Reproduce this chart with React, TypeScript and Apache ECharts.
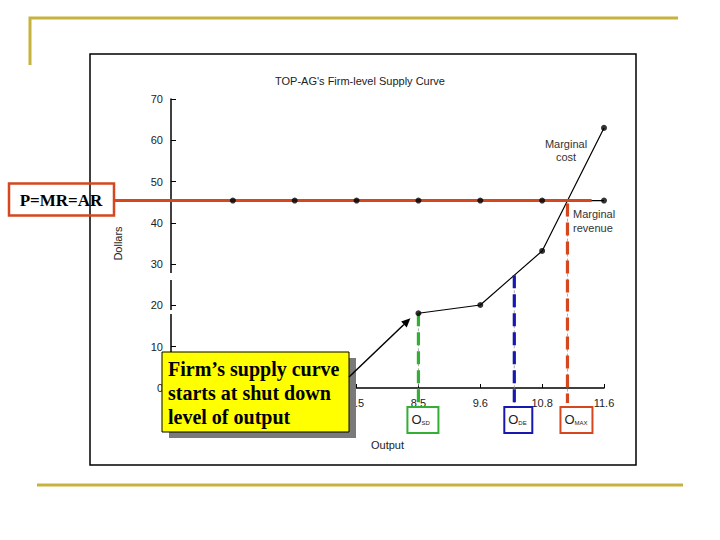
import React, { useEffect, useRef } from "react";
import * as echarts from "echarts";

// ---- data ----
// labels at 1 and 2 are hidden behind the callout in the reference
const outputLabels = ["", "", "", "7.5", "8.5", "9.6", "10.8", "11.6"];
const mrX = [1, 2, 3, 4, 5, 6, 7];
const mrValues = [45.4, 45.4, 45.4, 45.4, 45.4, 45.4, 45.4];
const mcX = [4, 5, 6, 7];
const mcValues = [18.1, 20.1, 33.2, 63.0];
const yMin = 0;
const yMax = 70;
const yStep = 10;
const shutdownX = 4; // O_SD
const breakevenX = 5.55; // O_DE
const mrOverlayEndX = 6.8;
const titleText = "TOP-AG's Firm-level Supply Curve";
const calloutLines = ["Firm\u2019s supply curve", "starts at shut down", "level of output"];

function mcAt(x: number): number {
  for (let i = 0; i < mcX.length - 1; i++) {
    if (x >= mcX[i] && x <= mcX[i + 1]) {
      const t = (x - mcX[i]) / (mcX[i + 1] - mcX[i]);
      return mcValues[i] + t * (mcValues[i + 1] - mcValues[i]);
    }
  }
  return mcValues[mcValues.length - 1];
}

function mcMrIntersection(level: number): number {
  for (let i = 0; i < mcX.length - 1; i++) {
    const a = mcValues[i], b = mcValues[i + 1];
    if ((a - level) * (b - level) <= 0) {
      return mcX[i] + ((level - a) / (b - a)) * (mcX[i + 1] - mcX[i]);
    }
  }
  return mcX[mcX.length - 1];
}

const GOLD = "#c8b23e";
const RED = "#d4471f";
const GREEN = "#33b033";
const BLUE = "#1818b0";
const SANS = "'Liberation Sans', Arial, sans-serif";
const SERIF = "'Liberation Serif', 'Times New Roman', serif";

export default function App() {
  const ref = useRef<HTMLDivElement>(null);

  useEffect(() => {
    document.body.style.margin = "0";
    if (!ref.current) return;
    const chart = echarts.init(ref.current, undefined, { renderer: "svg" });
    chart.setOption({
      animation: false,
      backgroundColor: "#ffffff",
      textStyle: { fontFamily: SANS },
      grid: { left: 171, right: 116, top: 99, bottom: 152, containLabel: false },
      xAxis: {
        type: "value",
        min: 0,
        max: outputLabels.length - 1,
        interval: 1,
        name: "Output",
        nameLocation: "middle",
        nameGap: 51,
        nameTextStyle: { fontSize: 11, color: "#222", fontFamily: SANS },
        splitLine: { show: false },
        axisLine: { lineStyle: { color: "#000", width: 1.5 } },
        axisTick: { inside: true, length: 4, lineStyle: { color: "#000" } },
        axisLabel: {
          margin: 9,
          fontSize: 11,
          color: "#222",
          fontFamily: SANS,
          formatter: (v: number) => outputLabels[Math.round(v)] ?? "",
        },
      },
      yAxis: {
        type: "value",
        min: yMin,
        max: yMax,
        interval: yStep,
        name: "Dollars",
        nameLocation: "middle",
        nameGap: 48,
        nameTextStyle: { fontSize: 11, color: "#222", fontFamily: SANS },
        splitLine: { show: false },
        axisLine: { show: true, lineStyle: { color: "#000", width: 1.5 } },
        axisTick: { show: true, inside: true, length: 5, lineStyle: { color: "#000" } },
        axisLabel: { margin: 8, fontSize: 11, color: "#222", fontFamily: SANS },
      },
      series: [
        {
          type: "line",
          z: 2,
          data: mrX.map((x, i) => [x, mrValues[i]]),
          showSymbol: false,
          clip: false,
          lineStyle: { color: "#000", width: 1.2 },
        },
        {
          type: "line",
          z: 2,
          data: mcX.map((x, i) => [x, mcValues[i]]),
          showSymbol: false,
          clip: false,
          lineStyle: { color: "#000", width: 1.2 },
        },
        {
          type: "scatter",
          z: 5,
          data: mrX.map((x, i) => [x, mrValues[i]]),
          symbol: "circle",
          symbolSize: 6,
          clip: false,
          itemStyle: { color: "#000" },
        },
        {
          type: "scatter",
          z: 5,
          data: mcX.map((x, i) => [x, mcValues[i]]),
          symbol: "circle",
          symbolSize: 6,
          clip: false,
          itemStyle: { color: "#000" },
        },
      ],
    });

    const px = (x: number, y: number) =>
      chart.convertToPixel({ gridIndex: 0 }, [x, y]) as number[];

    const mrLevel = mrValues[0];
    const maxX = mcMrIntersection(mrLevel);
    const [, axisY] = px(0, 0);
    const [, mrY] = px(0, mrLevel);
    const [mrEndPx] = px(mrOverlayEndX, mrLevel);
    const sdTop = px(shutdownX, mcAt(shutdownX));
    const deTop = px(breakevenX, mcAt(breakevenX));
    const maxTop = px(maxX, mrLevel);
    const lineBottom = axisY + 15;

    const els: any[] = [];
    // slide decorations
    els.push({ type: "polyline", z: 1, shape: { points: [[30, 65], [30, 18], [678, 18]] }, style: { stroke: GOLD, lineWidth: 3, fill: "none" } });
    els.push({ type: "line", z: 1, shape: { x1: 37, y1: 485, x2: 683, y2: 485 }, style: { stroke: GOLD, lineWidth: 3 } });
    // chart frame
    els.push({ type: "rect", z: 1, shape: { x: 90, y: 54, width: 546, height: 411 }, style: { stroke: "#000", lineWidth: 1.5, fill: "none" } });
    // title
    els.push({ type: "text", z: 3, x: 360, y: 81, style: { text: titleText, font: `11px ${SANS}`, fill: "#222", align: "center", verticalAlign: "middle" } });
    // curve labels
    els.push({ type: "text", z: 3, x: 566, y: 144, style: { text: "Marginal", font: `11px ${SANS}`, fill: "#333", align: "center", verticalAlign: "middle" } });
    els.push({ type: "text", z: 3, x: 566, y: 157, style: { text: "cost", font: `11px ${SANS}`, fill: "#333", align: "center", verticalAlign: "middle" } });
    els.push({ type: "text", z: 3, x: 573, y: 214, style: { text: "Marginal", font: `11px ${SANS}`, fill: "#333", align: "left", verticalAlign: "middle" } });
    els.push({ type: "text", z: 3, x: 573, y: 228, style: { text: "revenue", font: `11px ${SANS}`, fill: "#333", align: "left", verticalAlign: "middle" } });
    // axis gaps (artifacts)
    els.push({ type: "rect", z: 6, shape: { x: 168, y: 273, width: 8, height: 7 }, style: { fill: "#fff" } });
    els.push({ type: "rect", z: 6, shape: { x: 168, y: 310, width: 8, height: 4 }, style: { fill: "#fff" } });

    // P=MR=AR red line & box
    els.push({ type: "line", z: 3, shape: { x1: 114, y1: mrY, x2: mrEndPx, y2: mrY }, style: { stroke: RED, lineWidth: 3 } });
    els.push({ type: "rect", z: 7, shape: { x: 9, y: mrY - 17, width: 105, height: 32 }, style: { stroke: RED, lineWidth: 2.5, fill: "none" } });
    els.push({ type: "text", z: 7, x: 61, y: mrY, style: { text: "P=MR=AR", font: `bold 17px ${SERIF}`, fill: "#000", align: "center", verticalAlign: "middle" } });

    // vertical dashed lines
    const vline = (x: number, yTop: number, color: string) => {
      els.push({ type: "line", z: 3, shape: { x1: x, y1: yTop, x2: x, y2: lineBottom }, style: { stroke: "#999", lineWidth: 0.8, lineDash: [3, 2] } });
      els.push({ type: "line", z: 4, shape: { x1: x, y1: yTop, x2: x, y2: lineBottom }, style: { stroke: color, lineWidth: 3.2, lineDash: [13, 6] } });
    };
    vline(sdTop[0], sdTop[1], GREEN);
    vline(deTop[0], deTop[1], BLUE);
    vline(maxTop[0], maxTop[1] + 3, RED);

    // label boxes
    const box = (left: number, w: number, color: string, sub: string) => {
      const top = axisY + 19;
      els.push({ type: "rect", z: 6, shape: { x: left, y: top, width: w, height: 26 }, style: { stroke: color, lineWidth: 2, fill: "#fff" } });
      els.push({ type: "text", z: 7, x: left + 4, y: top + 12, style: { text: "O", font: `13px ${SANS}`, fill: "#222", align: "left", verticalAlign: "middle" } });
      els.push({ type: "text", z: 7, x: left + 14, y: top + 16, style: { text: sub, font: `6px ${SANS}`, fill: "#222", align: "left", verticalAlign: "middle" } });
    };
    box(sdTop[0] - 11, 31, GREEN, "SD");
    box(deTop[0] - 10, 28, BLUE, "DE");
    box(maxTop[0] - 7, 32, RED, "MAX");

    // callout with shadow
    els.push({ type: "rect", z: 8, shape: { x: 169, y: 358, width: 187, height: 80 }, style: { fill: "#7a7a7a" } });
    els.push({ type: "rect", z: 9, shape: { x: 162, y: 352, width: 187, height: 80 }, style: { fill: "#ffff00", stroke: "#000", lineWidth: 1 } });
    calloutLines.forEach((t, i) => {
      els.push({ type: "text", z: 10, x: 168, y: 369 + i * 24, style: { text: t, font: `bold 20px ${SERIF}`, fill: "#000", align: "left", verticalAlign: "middle" } });
    });
    // arrow from callout to start of supply curve
    const sx = 349, sy = 377;
    const tx = sdTop[0] - 8, ty = sdTop[1] + 5;
    const ang = Math.atan2(ty - sy, tx - sx);
    const ah = 9, aw = 4;
    const bx = tx - ah * Math.cos(ang), by = ty - ah * Math.sin(ang);
    els.push({ type: "line", z: 10, shape: { x1: sx, y1: sy, x2: bx, y2: by }, style: { stroke: "#000", lineWidth: 1.5 } });
    els.push({
      type: "polygon", z: 10,
      shape: { points: [[tx, ty], [bx + aw * Math.sin(ang), by - aw * Math.cos(ang)], [bx - aw * Math.sin(ang), by + aw * Math.cos(ang)]] },
      style: { fill: "#000" },
    });

    chart.setOption({ graphic: { elements: els } });

    return () => chart.dispose();
  }, []);

  return <div ref={ref} style={{ width: 720, height: 540 }} />;
}
